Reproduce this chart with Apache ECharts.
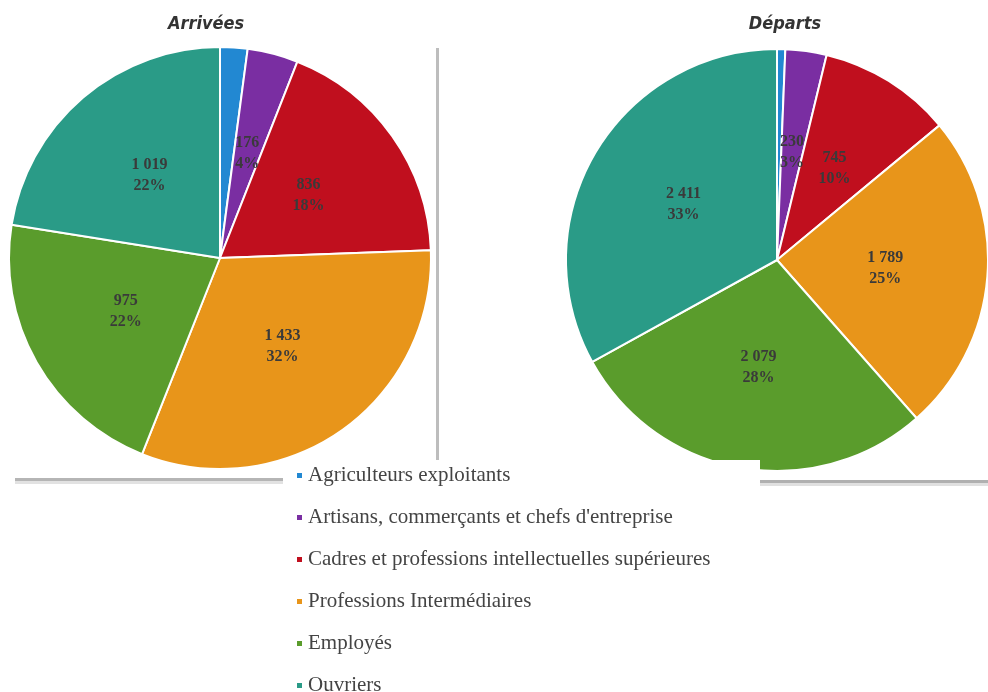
<!DOCTYPE html>
<html>
<head>
<meta charset="utf-8">
<script src="https://cdn.jsdelivr.net/npm/echarts@6/dist/echarts.min.js"></script>
<style>
html,body{margin:0;padding:0;background:#fff;}
#chart{width:988px;height:692px;}
</style>
</head>
<body>
<div id="chart"></div>
<script>
const categories = [
  "Agriculteurs exploitants",
  "Artisans, commerçants et chefs d'entreprise",
  "Cadres et professions intellectuelles supérieures",
  "Professions Intermédiaires",
  "Employés",
  "Ouvriers"
];
const colors = ["#2288d2", "#7a2ea2", "#c00f1e", "#e8951a", "#5a9c2c", "#2a9b87"];
const arriveesValues = [95, 176, 836, 1433, 975, 1019];
const departsValues = [46, 230, 745, 1789, 2079, 2411];
const titles = ["Arrivées", "Départs"];

function fmt(v) {
  return String(v).replace(/\B(?=(\d{3})+(?!\d))/g, " ");
}
function buildData(vals) {
  return categories.map((c, i) => ({
    name: c,
    value: vals[i],
    itemStyle: { color: colors[i] },
    label: { show: i !== 0 }
  }));
}
function pieSeries(vals, center) {
  return {
    type: 'pie',
    center: center,
    radius: [0, 211],
    startAngle: 90,
    clockwise: true,
    percentPrecision: 0,
    avoidLabelOverlap: false,
    itemStyle: { borderColor: '#ffffff', borderWidth: 2 },
    label: {
      position: 'inside',
      formatter: p => fmt(p.value) + '\n' + p.percent + '%',
      color: '#3a3a3a',
      fontFamily: 'Liberation Serif',
      fontWeight: 'bold',
      fontSize: 16,
      lineHeight: 21
    },
    labelLine: { show: false },
    emphasis: { disabled: true },
    data: buildData(vals)
  };
}

const titleStyle = { fontFamily: 'DejaVu Sans Condensed', fontStyle: 'italic', fontWeight: 'bold', fontSize: 18, color: '#333' };
const chart = echarts.init(document.getElementById('chart'), null, { renderer: 'canvas' });
chart.setOption({
  animation: false,
  backgroundColor: '#ffffff',
  title: [
    { text: titles[0], left: 201, top: 10, textAlign: 'center', textStyle: titleStyle },
    { text: titles[1], left: 780, top: 10, textAlign: 'center', textStyle: titleStyle }
  ],
  legend: {
    orient: 'vertical',
    left: 290,
    top: 460,
    height: 240,
    icon: 'rect',
    itemWidth: 7,
    itemHeight: 7,
    itemGap: 21,
    selectedMode: false,
    data: categories,
    textStyle: { fontFamily: 'Liberation Serif', fontSize: 21, color: '#444', lineHeight: 21 },
    z: 200
  },
  graphic: [
    { type: 'rect', z: 1, shape: { x: 436, y: 48, width: 3, height: 414 }, style: { fill: '#bdbdbd' } },
    { type: 'rect', z: 1, shape: { x: 15, y: 478, width: 422, height: 3 }, style: { fill: '#b5b5b5' } },
    { type: 'rect', z: 1, shape: { x: 15, y: 481, width: 422, height: 3 }, style: { fill: '#e2e2e2' } },
    { type: 'rect', z: 1, shape: { x: 760, y: 480, width: 228, height: 3 }, style: { fill: '#b0b0b0' } },
    { type: 'rect', z: 1, shape: { x: 760, y: 483, width: 228, height: 3 }, style: { fill: '#e0e0e0' } },
    { type: 'rect', z: 100, shape: { x: 283, y: 460, width: 477, height: 232 }, style: { fill: '#ffffff' } }
  ],
  series: [
    pieSeries(arriveesValues, [220, 258]),
    pieSeries(departsValues, [777, 260])
  ]
});
</script>
</body>
</html>
